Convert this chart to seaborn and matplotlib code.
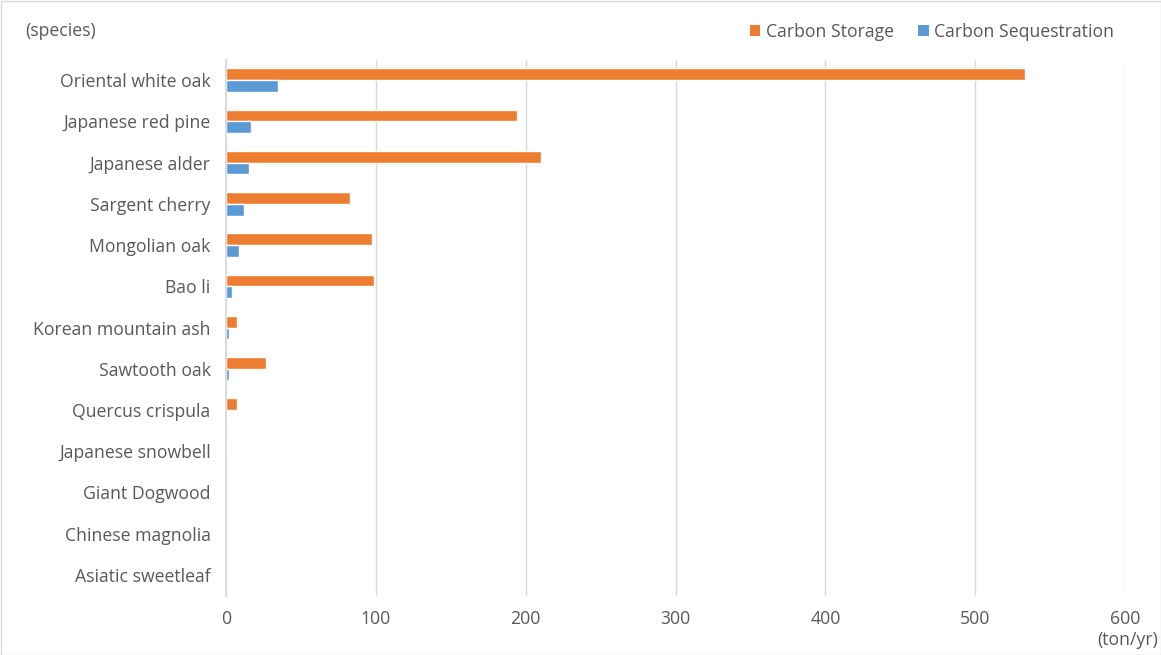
import matplotlib
matplotlib.use("Agg")
import matplotlib.pyplot as plt
from matplotlib.patches import Rectangle, Patch
import seaborn as sns
import pandas as pd

species = [
    "Oriental white oak", "Japanese red pine", "Japanese alder", "Sargent cherry",
    "Mongolian oak", "Bao li", "Korean mountain ash", "Sawtooth oak",
    "Quercus crispula", "Japanese snowbell", "Giant Dogwood", "Chinese magnolia",
    "Asiatic sweetleaf",
]
carbon_storage = [533, 194, 210, 83, 97.5, 99, 7.3, 26.5, 7.5, 0.8, 0, 0, 0]
carbon_sequestration = [35, 16.7, 15.6, 12, 8.7, 4.2, 2.2, 2.2, 0.7, 0.1, 0, 0, 0]
series_names = ["Carbon Storage", "Carbon Sequestration"]
series_colors = ["#ED7D31", "#5B9BD5"]
x_ticks = [0, 100, 200, 300, 400, 500, 600]

df = pd.DataFrame({
    "species": species * 2,
    "value": carbon_storage + carbon_sequestration,
    "metric": [series_names[0]] * len(species) + [series_names[1]] * len(species),
})

sns.set_theme(style="white")
plt.rcParams["font.family"] = ["Open Sans", "DejaVu Sans"]

text_color = "#595959"
grid_color = "#d9d9d9"
fs = 12.7

fig = plt.figure(figsize=(11.61, 6.55), dpi=100)
ax = fig.add_axes([226 / 1161, 1 - 595.5 / 655, (1125 - 226) / 1161, 536 / 655])

sns.barplot(
    data=df, y="species", x="value", hue="metric", order=species,
    hue_order=series_names, palette=series_colors, orient="h",
    width=0.57, dodge=True, saturation=1, ax=ax, legend=False,
)

ax.set_xlim(0, 600)
ax.set_xticks(x_ticks)
ax.set_xticklabels([str(t) for t in x_ticks])
ax.set_xlabel("")
ax.set_ylabel("")
ax.xaxis.grid(True, color=grid_color, linewidth=1)
ax.set_axisbelow(True)
for side in ["top", "right", "bottom"]:
    ax.spines[side].set_visible(False)
ax.spines["left"].set_color(grid_color)
ax.tick_params(axis="both", length=0, colors=text_color, labelsize=fs)
ax.tick_params(axis="x", pad=10.5)
ax.tick_params(axis="y", pad=11)

fig.text(25 / 1161, 1 - 31 / 655, "(species)", color=text_color, fontsize=fs,
         ha="left", va="center")
fig.text(1128 / 1161, 1 - 640 / 655, "(ton/yr)", color=text_color, fontsize=fs,
         ha="center", va="center")

handles = [Patch(facecolor=c, edgecolor="none") for c in series_colors]
fig.legend(handles, series_names, loc="center right",
           bbox_to_anchor=(1130 / 1161, 1 - 32 / 655), ncol=2, frameon=False,
           fontsize=fs, labelcolor=text_color, handlelength=0.6,
           handleheight=0.6, handletextpad=0.3, columnspacing=1.4)

fig.patches.append(Rectangle((0.5 / 1161, 0.5 / 655), 1 - 1 / 1161, 1 - 1 / 655,
                             transform=fig.transFigure, fill=False,
                             edgecolor=grid_color, linewidth=1))

fig.savefig("out.png", dpi=100)
